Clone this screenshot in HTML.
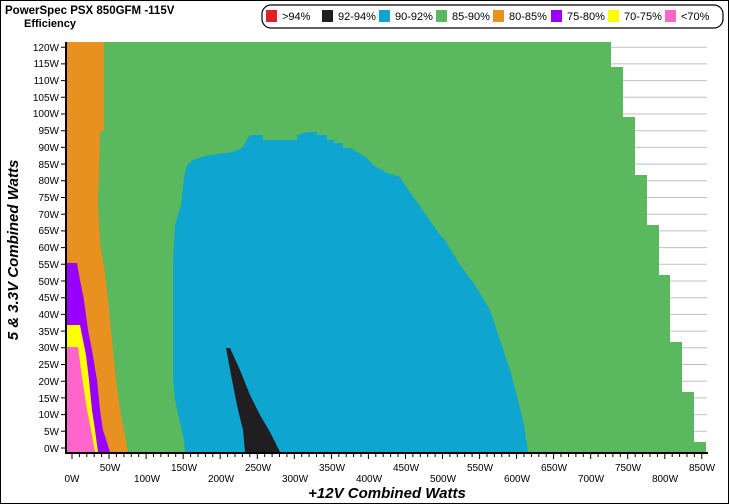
<!DOCTYPE html>
<html><head><meta charset="utf-8"><style>
body{margin:0;background:#fff}
svg{display:block;font-family:"Liberation Sans",sans-serif}
</style></head><body>
<svg width="729" height="504" viewBox="0 0 729 504" xmlns="http://www.w3.org/2000/svg">
<rect x="0.5" y="0.5" width="728" height="503" fill="#fff" stroke="#000" stroke-width="1"/>
<text x="5" y="14" font-size="11.5" font-weight="bold">PowerSpec PSX 850GFM -115V</text>
<text x="24" y="27" font-size="11" font-weight="bold">Efficiency</text>
<rect x="262" y="5" width="461" height="23" rx="9" fill="#fff" stroke="#000" stroke-width="1.2"/>
<g font-size="11">
<rect x="266" y="10" width="11" height="12" fill="#e0202a"/><text x="282" y="20">&gt;94%</text>
<rect x="322" y="10" width="11" height="12" fill="#201e20"/><text x="338" y="20">92-94%</text>
<rect x="379" y="10" width="11" height="12" fill="#0ea5d0"/><text x="395" y="20">90-92%</text>
<rect x="436" y="10" width="11" height="12" fill="#5ab85e"/><text x="452" y="20">85-90%</text>
<rect x="493" y="10" width="11" height="12" fill="#e89020"/><text x="509" y="20">80-85%</text>
<rect x="551" y="10" width="11" height="12" fill="#9a00ff"/><text x="567" y="20">75-80%</text>
<rect x="608" y="10" width="11" height="12" fill="#ffff00"/><text x="624" y="20">70-75%</text>
<rect x="665" y="10" width="11" height="12" fill="#ff66cc"/><text x="681" y="20">&lt;70%</text>
</g>
<g stroke="#c0c0c0" stroke-width="1">
<line x1="67" x2="707" y1="448" y2="448"/><line x1="67" x2="707" y1="431.3" y2="431.3"/><line x1="67" x2="707" y1="414.6" y2="414.6"/><line x1="67" x2="707" y1="397.9" y2="397.9"/><line x1="67" x2="707" y1="381.2" y2="381.2"/><line x1="67" x2="707" y1="364.5" y2="364.5"/><line x1="67" x2="707" y1="347.8" y2="347.8"/><line x1="67" x2="707" y1="331.1" y2="331.1"/><line x1="67" x2="707" y1="314.4" y2="314.4"/><line x1="67" x2="707" y1="297.7" y2="297.7"/><line x1="67" x2="707" y1="281" y2="281"/><line x1="67" x2="707" y1="264.3" y2="264.3"/><line x1="67" x2="707" y1="247.6" y2="247.6"/><line x1="67" x2="707" y1="230.9" y2="230.9"/><line x1="67" x2="707" y1="214.2" y2="214.2"/><line x1="67" x2="707" y1="197.5" y2="197.5"/><line x1="67" x2="707" y1="180.8" y2="180.8"/><line x1="67" x2="707" y1="164.1" y2="164.1"/><line x1="67" x2="707" y1="147.4" y2="147.4"/><line x1="67" x2="707" y1="130.7" y2="130.7"/><line x1="67" x2="707" y1="114" y2="114"/><line x1="67" x2="707" y1="97.3" y2="97.3"/><line x1="67" x2="707" y1="80.6" y2="80.6"/><line x1="67" x2="707" y1="63.9" y2="63.9"/><line x1="67" x2="707" y1="47.2" y2="47.2"/>
</g>
<polygon fill="#5ab85e" points="67,42 611,42 611,67 623,67 623,117 635,117 635,175 647,175 647,225 659,225 659,275 670,275 670,342 682,342 682,392 694,392 694,442 706,442 706,452 67,452"/>
<polygon fill="#e89020" points="67,42 104,42 104,130 100,132 99,175 98,200 100,240 101,250 104,265 107,290 110,320 113,350 116,380 120,410 124,430 128,452 67,452"/>
<polygon fill="#9a00ff" points="67,263 77,263 80,280 84,300 88,330 92,350 97,380 100,410 103,430 110,452 67,452"/>
<polygon fill="#ffff00" points="67,325 80,325 83,340 86,355 89,380 92,410 95,430 98,452 67,452"/>
<polygon fill="#ff66cc" points="67,347 78,347 81,370 84,390 87,410 91,430 95,452 67,452"/>
<polygon fill="#0ea5d0" points="185,452 184,440 175,400 173,380 173,260 175,225 181,205 184,177 187,165 193,160 205,156 232,152 242,148 250,135 263,135 263,140 297,140 297,135 308,132 317,132 317,135 327,135 327,140 334,140 334,143 343,143 343,148 351,148 357,152 366,157 373,165 387,173 400,177 405,185 440,235 445,240 460,265 475,285 490,310 500,340 510,370 518,400 524,425 528,452"/>
<polygon fill="#201e20" points="226,348 230,348 240,370 250,395 260,415 270,432 280,452 245,452 243,430 238,410 232,380"/>
<line x1="66" y1="42" x2="66" y2="454" stroke="#000" stroke-width="2"/>
<line x1="65" y1="453" x2="708" y2="453" stroke="#000" stroke-width="2"/>
<g stroke="#000" stroke-width="1">
<path d="M61,448H66M61,431.3H66M61,414.6H66M61,397.9H66M61,381.2H66M61,364.5H66M61,347.8H66M61,331.1H66M61,314.4H66M61,297.7H66M61,281H66M61,264.3H66M61,247.6H66M61,230.9H66M61,214.2H66M61,197.5H66M61,180.8H66M61,164.1H66M61,147.4H66M61,130.7H66M61,114H66M61,97.3H66M61,80.6H66M61,63.9H66M61,47.2H66"/>
<path d="M72,454v5M79.4,454v3M86.8,454v3M94.2,454v3M101.6,454v3M109,454v5M116.4,454v3M123.9,454v3M131.3,454v3M138.7,454v3M146.1,454v5M153.5,454v3M160.9,454v3M168.3,454v3M175.7,454v3M183.2,454v5M190.6,454v3M198,454v3M205.4,454v3M212.8,454v3M220.2,454v5M227.6,454v3M235,454v3M242.4,454v3M249.8,454v3M257.3,454v5M264.7,454v3M272.1,454v3M279.5,454v3M286.9,454v3M294.3,454v5M301.7,454v3M309.1,454v3M316.5,454v3M323.9,454v3M331.4,454v5M338.8,454v3M346.2,454v3M353.6,454v3M361,454v3M368.4,454v5M375.8,454v3M383.2,454v3M390.6,454v3M398,454v3M405.5,454v5M412.9,454v3M420.3,454v3M427.7,454v3M435.1,454v3M442.5,454v5M449.9,454v3M457.3,454v3M464.7,454v3M472.1,454v3M479.6,454v5M487,454v3M494.4,454v3M501.8,454v3M509.2,454v3M516.6,454v5M524,454v3M531.4,454v3M538.8,454v3M546.2,454v3M553.6,454v5M561,454v3M568.5,454v3M575.9,454v3M583.3,454v3M590.7,454v5M598.1,454v3M605.5,454v3M612.9,454v3M620.3,454v3M627.7,454v5M635.2,454v3M642.6,454v3M650,454v3M657.4,454v3M664.8,454v5M672.2,454v3M679.6,454v3M687,454v3M694.4,454v3M701.8,454v5"/>
</g>
<g font-size="10" text-anchor="end">
<text x="59" y="452">0W</text><text x="59" y="435">5W</text><text x="59" y="418">10W</text><text x="59" y="402">15W</text><text x="59" y="385">20W</text><text x="59" y="368">25W</text><text x="59" y="351">30W</text><text x="59" y="335">35W</text><text x="59" y="318">40W</text><text x="59" y="301">45W</text><text x="59" y="285">50W</text><text x="59" y="268">55W</text><text x="59" y="251">60W</text><text x="59" y="234">65W</text><text x="59" y="218">70W</text><text x="59" y="201">75W</text><text x="59" y="184">80W</text><text x="59" y="168">85W</text><text x="59" y="151">90W</text><text x="59" y="134">95W</text><text x="59" y="117">100W</text><text x="59" y="101">105W</text><text x="59" y="84">110W</text><text x="59" y="67">115W</text><text x="59" y="51">120W</text>
</g>
<g font-size="10" text-anchor="middle">
<text x="110" y="471">50W</text><text x="184" y="471">150W</text><text x="258" y="471">250W</text><text x="332" y="471">350W</text><text x="406" y="471">450W</text><text x="480" y="471">550W</text><text x="554" y="471">650W</text><text x="628" y="471">750W</text><text x="702" y="471">850W</text>
<text x="72" y="482">0W</text><text x="147" y="482">100W</text><text x="221" y="482">200W</text><text x="295" y="482">300W</text><text x="369" y="482">400W</text><text x="443" y="482">500W</text><text x="517" y="482">600W</text><text x="591" y="482">700W</text><text x="665" y="482">800W</text>
</g>
<text x="387" y="498" font-size="15" font-weight="bold" font-style="italic" text-anchor="middle">+12V Combined Watts</text>
<text transform="translate(18,250) rotate(-90)" font-size="15" font-weight="bold" font-style="italic" text-anchor="middle">5 &amp; 3.3V Combined Watts</text>
</svg>
</body></html>
